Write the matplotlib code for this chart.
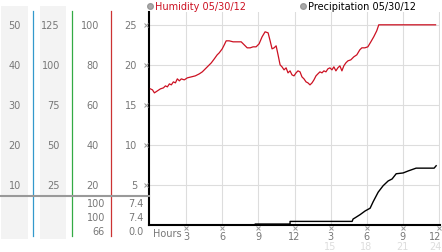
import matplotlib
matplotlib.use("Agg")
import matplotlib.pyplot as plt
from matplotlib.patches import Rectangle
from matplotlib.transforms import blended_transform_factory

# humidity (%)
hum_hours = [0, 0.17, 0.33, 0.58, 0.83, 1.08, 1.25, 1.41, 1.58, 1.74, 1.91, 2.08, 2.24,
             2.41, 2.57, 2.82, 3.07, 3.41, 3.74, 4.07, 4.32, 4.57, 4.82, 5.07, 5.32, 5.56,
             5.73, 5.98, 6.15, 6.31, 6.56, 6.89, 7.23, 7.56, 7.81, 8.06, 8.31, 8.55, 8.80,
             9.05, 9.30, 9.55, 9.80, 9.97, 10.13, 10.30, 10.47, 10.63, 10.80, 10.96, 11.13,
             11.30, 11.46, 11.63, 11.79, 11.96, 12.13, 12.29, 12.46, 12.62, 12.79, 12.96,
             13.12, 13.29, 13.46, 13.62, 13.79, 13.95, 14.12, 14.29, 14.45, 14.62, 14.78,
             14.95, 15.12, 15.28, 15.45, 15.61, 15.78, 15.95, 16.11, 16.28, 16.45, 16.69,
             16.94, 17.19, 17.44, 17.61, 17.86, 18.11, 18.36, 18.60, 18.85, 19.02, 23.75]
humidity = [68, 67.5, 66, 67, 68, 68.5, 69.5, 69, 70.5, 70, 71.5, 71, 73,
            72, 73, 72.5, 73.5, 74, 74.5, 75.5, 76.5, 78, 79.5, 81, 83, 85,
            86, 88, 90, 92, 92, 91.5, 91.5, 91.5, 90, 88.5, 88.5, 89, 89,
            90.5, 94, 96.5, 96, 92, 88, 88.5, 89.5, 85, 80, 79, 77.5,
            78.5, 76, 77, 75, 74.5, 76, 77, 76.5, 74, 73, 71.5,
            71, 70, 71, 72.5, 74.5, 75.5, 76.5, 76, 77, 76.5, 78,
            78.5, 77.5, 79, 77, 78.5, 79.5, 77, 79.5, 81, 82, 82.5,
            84, 85, 87.5, 88.5, 88.5, 89, 91.5, 94, 97, 100, 100]

# accumulated precipitation
rain_hours = [0, 8.72, 8.72, 11.63, 11.63, 16.80, 16.88, 17.05, 17.47, 17.88, 18.30,
              18.55, 18.97, 19.38, 19.80, 20.13, 20.47, 21.05, 21.47, 22.13, 23.63, 23.80]
rain = [0, 0, 0.12, 0.12, 0.45, 0.45, 0.75, 0.9, 1.3, 1.75, 2.1,
        2.9, 4.1, 4.9, 5.5, 5.75, 6.4, 6.5, 6.75, 7.1, 7.1, 7.4]

col1_labels = [10, 20, 30, 40, 50]
col2_labels = [25, 50, 75, 100, 125]
col3_labels = [20, 40, 60, 80, 100]
col4_labels = [5, 10, 15, 20, 25]
hum_summary = ["100", "100", "66"]
rain_summary = ["7.4", "7.4", "0.0"]
hour_ticks = [3, 6, 9, 12, 15, 18, 21, 24]
hour_labels = ["3", "6", "9", "12", "3", "6", "9", "12"]
pm_labels = ["15", "18", "21", "24"]

W, H = 442, 253
fig = plt.figure(figsize=(W / 100, H / 100), dpi=100)
plt.rcParams['font.family'] = ['DejaVu Sans']

def fx(x):
    return x / W

def fy(y):
    return 1 - y / H

ax = fig.add_axes([fx(149), 27 / H, 291 / W, 213 / H])
ax.set_xlim(-0.12, 24.12)
ax.set_ylim(0, 26.6)
for s in ["top", "right"]:
    ax.spines[s].set_visible(False)
ax.spines["left"].set_linewidth(1.5)
ax.spines["bottom"].set_linewidth(1.5)
ax.set_xticks(hour_ticks)
ax.set_yticks(col4_labels)
ax.set_xticklabels([])
ax.set_yticklabels([])
ax.tick_params(length=0)
ax.grid(True, color="#dddddd", lw=0.8)
ax.set_axisbelow(True)

ax.plot(rain_hours, rain, color="black", lw=1.0, zorder=3)

ax2 = ax.twinx()
ax2.set_ylim(0, 26.6 * 4)
ax2.axis("off")
ax2.plot(hum_hours, humidity, color="#cc1122", lw=0.9)

# left scale columns
fig.add_artist(Rectangle((fx(1), fy(240)), fx(27), 233 / H, transform=fig.transFigure,
                         color="#f3f3f3", lw=0, zorder=0))
fig.add_artist(Rectangle((fx(40), fy(240)), fx(26), 233 / H, transform=fig.transFigure,
                         color="#f3f3f3", lw=0, zorder=0))
for x, c in [(33, "#3399cc"), (72, "#33aa44"), (111, "#cc3333")]:
    fig.add_artist(plt.Line2D([fx(x), fx(x)], [fy(12), fy(237)], transform=fig.transFigure,
                              color=c, lw=0.9))
fig.add_artist(plt.Line2D([0, fx(149)], [fy(197), fy(197)], transform=fig.transFigure,
                          color="#999999", lw=1.5))

tr = blended_transform_factory(fig.transFigure, ax.transData)
lab = dict(fontsize=7, color="#777777", ha="right", va="center")
for i, v in enumerate(col4_labels):
    fig.text(fx(21), v, str(col1_labels[i]), transform=tr, **lab)
    fig.text(fx(60), v, str(col2_labels[i]), transform=tr, **lab)
    fig.text(fx(99), v, str(col3_labels[i]), transform=tr, **lab)
    fig.text(fx(137), v, str(v), transform=tr, **lab)
    fig.add_artist(plt.Line2D([fx(146)], [v], transform=tr, marker="x", ms=2.5,
                              mew=0.7, color="#999999", lw=0))

for i, y in enumerate([204, 218, 232]):
    fig.text(fx(105), fy(y), hum_summary[i], **lab)
    fig.text(fx(144), fy(y), rain_summary[i], **lab)

# hour labels under the plot
trx = blended_transform_factory(ax.transData, fig.transFigure)
for h, s in zip(hour_ticks, hour_labels):
    fig.add_artist(plt.Line2D([h], [fy(229)], transform=trx, marker="x", ms=2.5,
                              mew=0.7, color="#999999", lw=0))
    ha = "right" if h == 24 else "center"
    xx = 24.25 if h == 24 else h
    fig.text(xx, fy(237), s, transform=trx, fontsize=7, color="#777777",
             ha=ha, va="center")
for h, s in zip(hour_ticks[4:], pm_labels):
    ha = "right" if h == 24 else "center"
    xx = 24.25 if h == 24 else h
    fig.text(xx, fy(247), s, transform=trx, fontsize=7, color="#dddddd",
             ha=ha, va="center")
fig.text(fx(153), fy(234), "Hours", fontsize=7, color="#777777", ha="left", va="center")

# legend
fig.add_artist(plt.Line2D([fx(150)], [fy(7)], transform=fig.transFigure, marker="o",
                          ms=4, color="#aaaaaa", mec="#999999", lw=0))
fig.text(fx(155), fy(7), "Humidity 05/30/12", fontsize=7, color="#cc1122",
         ha="left", va="center")
fig.add_artist(plt.Line2D([fx(303)], [fy(7)], transform=fig.transFigure, marker="o",
                          ms=4, color="#aaaaaa", mec="#999999", lw=0))
fig.text(fx(308), fy(7), "Precipitation 05/30/12", fontsize=7, color="black",
         ha="left", va="center")

fig.savefig("out.png", dpi=100)
